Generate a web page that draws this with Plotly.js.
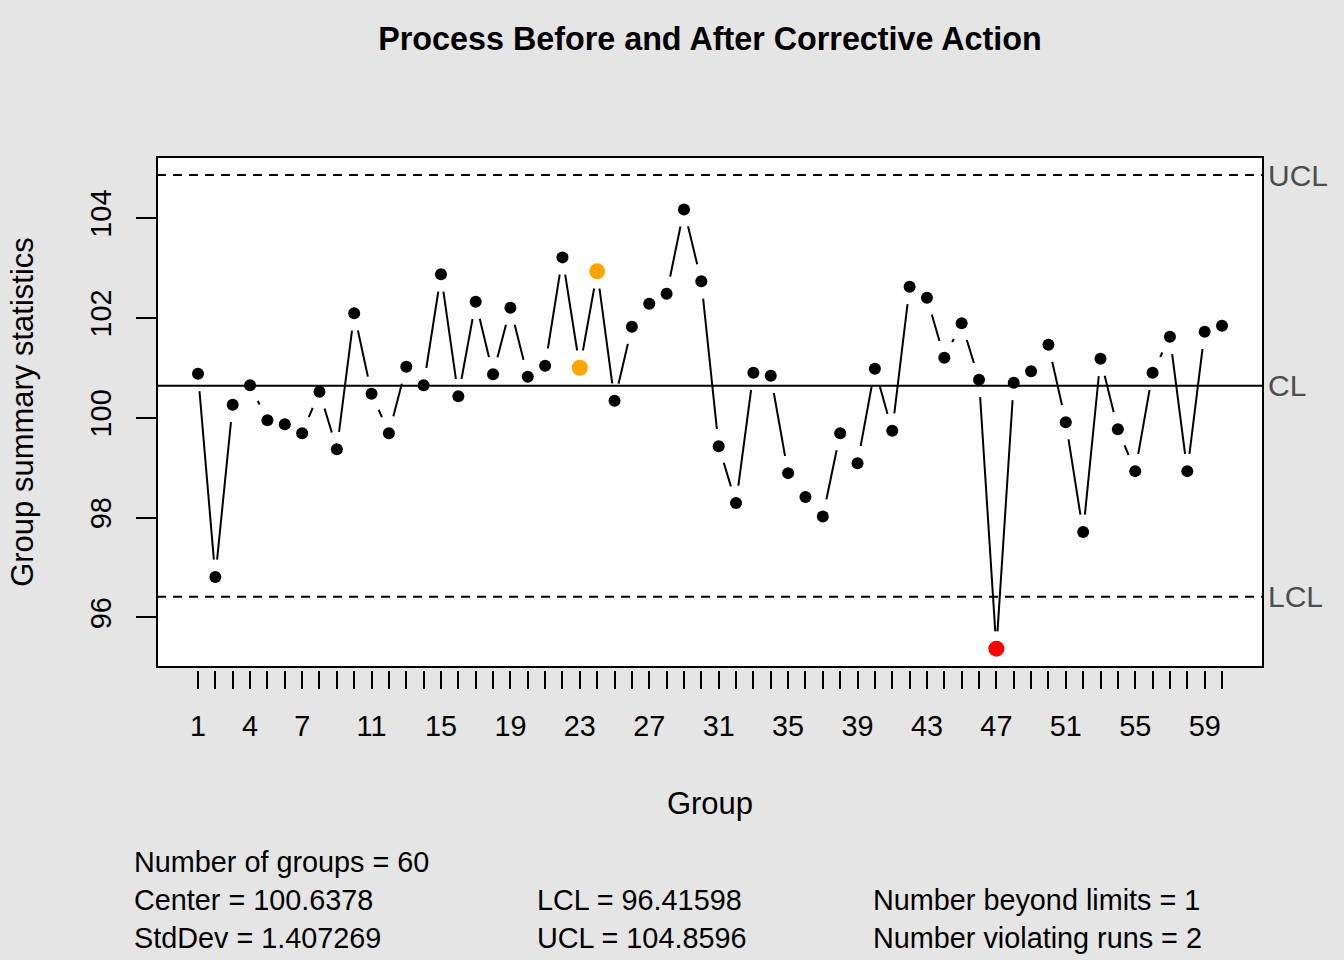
<!DOCTYPE html>
<html>
<head>
<meta charset="utf-8">
<script src="https://cdn.plot.ly/plotly-3.0.1.min.js"></script>
<style>html,body{margin:0;padding:0;background:#e5e5e5;}</style>
</head>
<body>
<div id="chart" style="width:1344px;height:960px;"></div>
<script>
// ---- data ----
const groups = [1,2,3,4,5,6,7,8,9,10,11,12,13,14,15,16,17,18,19,20,
                21,22,23,24,25,26,27,28,29,30,31,32,33,34,35,36,37,38,39,40,
                41,42,43,44,45,46,47,48,49,50,51,52,53,54,55,56,57,58,59,60];
const groupStats = [100.88, 96.81, 100.26, 100.65, 99.95, 99.87, 99.69, 100.52, 99.37, 102.09,
                    100.48, 99.69, 101.02, 100.65, 102.87, 100.43, 102.32, 100.87, 102.20, 100.82,
                    101.04, 103.21, 101.00, 102.93, 100.34, 101.82, 102.28, 102.48, 104.17, 102.73,
                    99.43, 98.29, 100.90, 100.84, 98.89, 98.41, 98.02, 99.69, 99.09, 100.98,
                    99.74, 102.62, 102.40, 101.20, 101.89, 100.76, 95.375, 100.70, 100.93, 101.46,
                    99.91, 97.71, 101.18, 99.77, 98.93, 100.90, 101.62, 98.93, 101.72, 101.84];
const violatingRuns = [23, 24];
const xTickLabels = [1, 4, 7, 11, 15, 19, 23, 27, 31, 35, 39, 43, 47, 51, 55, 59];
const yTickVals = [96, 98, 100, 102, 104];
const limitNames = ["UCL", "CL", "LCL"];
const limitValues = [104.8596, 100.6378, 96.41598];
const statLines = [
  ["Number of groups = 60", "", ""],
  ["Center = 100.6378", "LCL = 96.41598", "Number beyond limits = 1"],
  ["StdDev = 1.407269", "UCL = 104.8596", "Number violating runs = 2"]
];

// ---- styling ----
const FONT = "Liberation Sans, Arial, Helvetica, sans-serif";
const W = 1344, H = 960;
const M = {l:157, r:81, t:157, b:290};
const plotW = W - M.l - M.r, plotH = H - M.t - M.b;
const px2x = p => (p - M.l) / plotW;
const px2y = p => (H - M.b - p) / plotH;

const UCL = limitValues[0], LCL = limitValues[2];
const markerColors = groupStats.map((v, i) =>
  (v > UCL || v < LCL) ? "#FF0000" : (violatingRuns.includes(groups[i]) ? "#FFA500" : "#000000"));
const markerSizes = markerColors.map(c => c === "#000000" ? 12 : 16);

const traces = [
  { x: groups, y: groupStats, type: "scatter", mode: "lines",
    line: {color: "#000", width: 2}, hoverinfo: "skip", showlegend: false },
  { x: groups, y: groupStats, type: "scatter", mode: "markers",
    marker: {color: "#ffffff", size: 35, opacity: 1, line: {width: 0}}, hoverinfo: "skip", showlegend: false },
  { x: groups, y: groupStats, type: "scatter", mode: "markers",
    marker: {color: markerColors, size: markerSizes, opacity: 1, line: {width: 0}}, showlegend: false }
];

const shapes = [
  { type: "rect", xref: "x domain", yref: "y domain", x0: 0, x1: 1, y0: 0, y1: 1,
    fillcolor: "#ffffff", line: {width: 0}, layer: "below" }
];
limitNames.forEach((n, i) => {
  shapes.push({ type: "line", xref: "x domain", yref: "y", x0: 0, x1: 1,
    y0: limitValues[i], y1: limitValues[i], layer: "above",
    line: {color: "#000", width: 2, dash: n === "CL" ? "solid" : "9px,7px"} });
});
shapes.push({ type: "rect", xref: "x domain", yref: "y domain", x0: 0, x1: 1, y0: 0, y1: 1,
  fillcolor: "rgba(0,0,0,0)", line: {color: "#000", width: 2}, layer: "above" });

const annotations = [];
limitNames.forEach((n, i) => {
  annotations.push({ text: n, xref: "paper", x: 1, xanchor: "left", xshift: 3,
    yref: "y", y: limitValues[i], yanchor: "middle", showarrow: false,
    font: {family: FONT, size: 30, color: "#4d4d4d"} });
});
const colX = [132, 535, 871];
const rowY = [862, 900, 938];
statLines.forEach((row, r) => row.forEach((t, c) => {
  if (!t) return;
  annotations.push({ text: t, xref: "paper", x: px2x(colX[c]), xanchor: "left",
    yref: "paper", y: px2y(rowY[r]), yanchor: "middle", showarrow: false,
    font: {family: FONT, size: 28.8, color: "#000"} });
}));

const layout = {
  width: W, height: H,
  paper_bgcolor: "#e5e5e5", plot_bgcolor: "#e5e5e5",
  margin: {l: M.l, r: M.r, t: M.t, b: M.b, pad: 0},
  font: {family: FONT, color: "#000"},
  title: { text: "Process Before and After Corrective Action",
    font: {family: FONT, size: 32.3, weight: "bold", color: "#000"},
    xref: "paper", x: 0.5, xanchor: "center", yref: "container", y: 1 - 39/H, yanchor: "middle" },
  xaxis: {
    range: [-1.362, 62.362], anchor: "free", position: 0,
    tickmode: "array", tickvals: groups,
    ticktext: groups.map(g => xTickLabels.includes(g) ? String(g) : ""),
    ticks: "outside", ticklen: 18, tickwidth: 2, tickcolor: "#000",
    showline: false, showgrid: false, zeroline: false,
    tickfont: {family: FONT, size: 28.8, color: "#000"},
    ticklabelstandoff: 12,
    title: {text: "Group", font: {family: FONT, size: 31, color: "#000"}, standoff: 51}
  },
  yaxis: {
    domain: [3/plotH, 1], range: [95.008, 105.22],
    tickmode: "array", tickvals: yTickVals, ticktext: yTickVals.map(String),
    ticks: "outside", ticklen: 20, tickwidth: 2, tickcolor: "#000",
    tickangle: -90,
    showline: false, showgrid: false, zeroline: false,
    tickfont: {family: FONT, size: 28.8, color: "#000"},
    ticklabelstandoff: 13,
    title: {text: "Group summary statistics", font: {family: FONT, size: 31, color: "#000"}, standoff: 42}
  },
  shapes: shapes,
  annotations: annotations,
  showlegend: false
};

Plotly.newPlot("chart", traces, layout, {displayModeBar: false, staticPlot: true});
</script>
</body>
</html>
